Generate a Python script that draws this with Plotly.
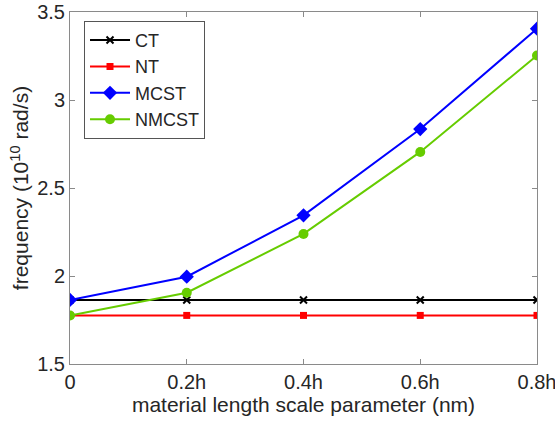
import plotly.graph_objects as go

x_labels = ["0", "0.2h", "0.4h", "0.6h", "0.8h"]
x_vals = [0, 0.2, 0.4, 0.6, 0.8]
ct = [1.864, 1.864, 1.864, 1.864, 1.864]
nt = [1.776, 1.776, 1.776, 1.776, 1.776]
mcst = [1.864, 1.996, 2.345, 2.835, 3.405]
nmcst = [1.776, 1.905, 2.239, 2.705, 3.253]

series = [
    ("CT", ct, "black", "x-thin", 7, 2),
    ("NT", nt, "red", "square", 7, 0),
    ("MCST", mcst, "blue", "diamond", 11, 0),
    ("NMCST", nmcst, "#66CC00", "circle", 10, 0),
]

fig = go.Figure()
for name, y, color, sym, size, lw in series:
    fig.add_trace(go.Scatter(
        x=x_vals, y=y, name=name, mode="lines+markers",
        line=dict(color=color, width=2),
        marker=dict(symbol=sym, size=size, color=color,
                    line=dict(color=color, width=lw)),
    ))

axis_common = dict(
    showgrid=False, zeroline=False, showline=True, mirror="allticks",
    linecolor="#8a8a8a", linewidth=1, ticks="inside", ticklen=5,
    tickcolor="#8a8a8a", tickfont=dict(size=20, color="#262626"),
    automargin=False, ticklabeloverflow="allow",
)
fig.update_xaxes(range=[0, 0.8], tickvals=x_vals, ticktext=x_labels,
                 title=dict(text="material length scale parameter (nm)",
                            font=dict(size=21, color="#262626"), standoff=4),
                 **axis_common)
fig.update_yaxes(range=[1.5, 3.5], tickvals=[1.5, 2, 2.5, 3, 3.5],
                 ticktext=["1.5", "2", "2.5", "3", "3.5"],
                 title=dict(text="frequency (10<sup>10</sup> rad/s)",
                            font=dict(size=21, color="#262626"), standoff=2),
                 **axis_common)
fig.update_layout(
    width=555, height=430,
    margin=dict(l=70, r=18, t=12, b=66),
    paper_bgcolor="white", plot_bgcolor="white",
    font=dict(family="Liberation Sans, Arial, sans-serif"),
    legend=dict(x=0.03, y=0.975, xanchor="left", yanchor="top",
                bgcolor="white", bordercolor="#555555", borderwidth=1,
                font=dict(size=18, color="#262626"),
                tracegroupgap=0, itemwidth=40),
    showlegend=True,
)
fig.write_html("out.html")
